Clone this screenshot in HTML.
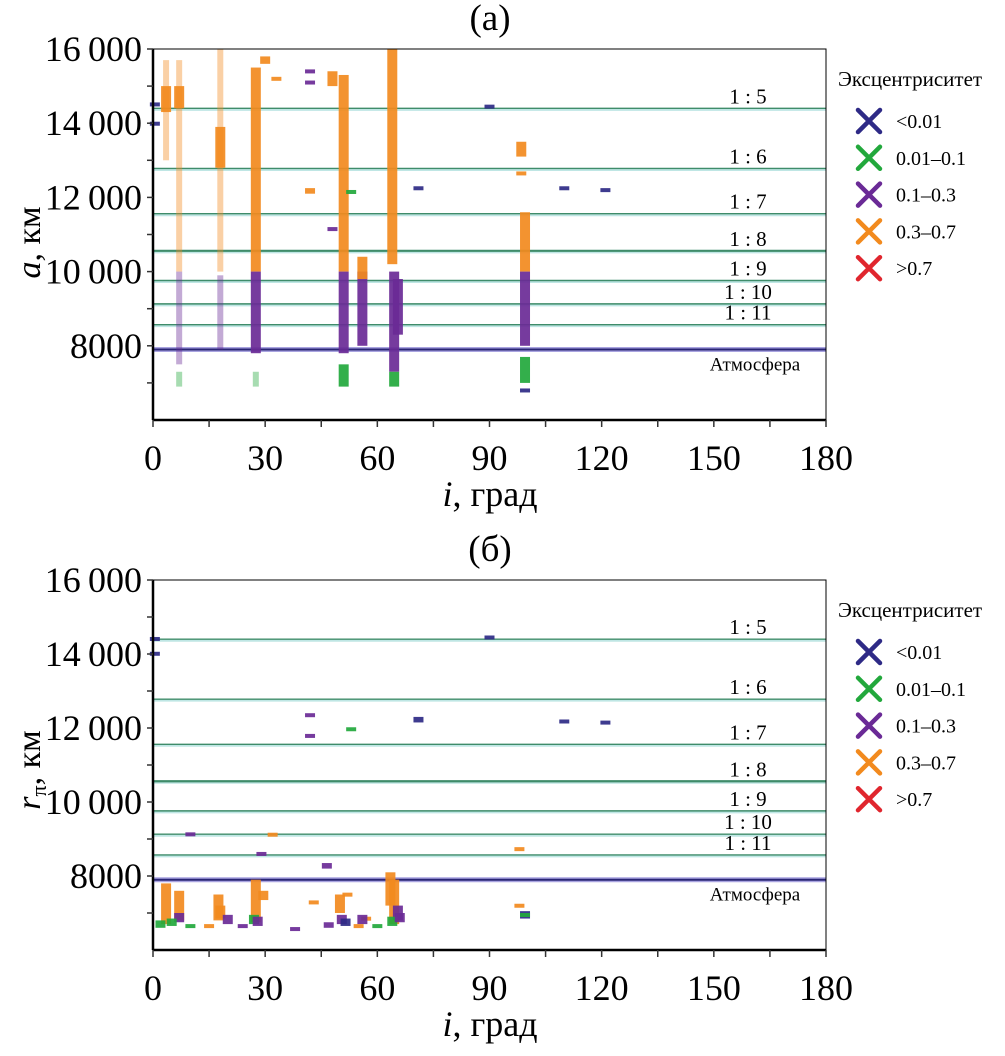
<!DOCTYPE html>
<html><head><meta charset="utf-8">
<style>
body{margin:0;background:#fff;}
svg{display:block;font-family:"Liberation Serif",serif;}
</style></head>
<body>
<svg id="chart" width="1005" height="1056" viewBox="0 0 1005 1056"></svg>
<script>
// ---------- data ----------
const xTicks = [0, 30, 60, 90, 120, 150, 180];
const yTicks = [8000, 10000, 12000, 14000, 16000];
const yTickLabels = ["8000", "10\u2009000", "12\u2009000", "14\u2009000", "16\u2009000"];
const resonanceLabels = ["1 : 5", "1 : 6", "1 : 7", "1 : 8", "1 : 9", "1 : 10", "1 : 11"];
const resonanceValues = [14400, 12780, 11560, 10560, 9760, 9130, 8570];
const atmosphereValue = 7900;
const classNames = ["<0.01", "0.01\u20130.1", "0.1\u20130.3", "0.3\u20130.7", ">0.7"];
const classColors = ["#2e2a86", "#22a83c", "#6a2a96", "#f28a1e", "#e0262e"];
// panel (a) streaks: inclination, a low, a high, class, density (1 dense, 0 sparse)
const aIncl = [3.5,3.5,7,7,7,7,18,18,18,27.5,27.5,27.5,30,33,42,42,42,48,48,51,51,51,53,56,56,64,64.5,65.5,64.5,90,71,110,121,98.5,98.5,99.5,99.5,99.5,99.5,0.5,0.5];
const aLow  = [14300,13000,14400,10000,7500,6900,12800,10000,7900,10000,7800,6900,15600,15150,15400,15050,12100,11100,15000,10000,7800,6900,12100,8000,9800,10200,7300,8300,6900,14450,12230,12230,12180,13100,12600,10000,8000,7000,6800,14480,13980];
const aHigh = [15000,15700,15000,15700,10000,7300,13900,16000,9900,15500,10000,7300,15800,15250,15450,15150,12250,11200,15400,15300,10000,7500,12200,10000,10400,16000,10000,9800,7300,14500,12300,12300,12250,13500,12700,11600,10000,7700,6850,14560,14040];
const aClass = [3,3,3,3,2,1,3,3,2,3,2,1,3,3,2,2,3,2,3,3,2,1,1,2,3,3,2,2,1,0,0,0,0,3,3,3,2,1,0,0,0];
const aDense = [1,0,1,0,0,0,1,0,0,1,1,0,1,1,1,1,1,1,1,1,1,1,1,1,1,1,1,1,1,1,1,1,1,1,1,1,1,1,1,1,1];
// panel (b) clusters: inclination, rπ low, rπ high, class
const bIncl = [0.5,0.5,90,71,110,121,42,42,53,10,32,29,46.5,98,98,99.5,3.5,7,7,17.5,18,27.5,29.5,43,50,52,57,56,63.5,64.5,65.5,2,5,20,27,28,47,50.5,51.5,60,64,66,99.5,10,15,24,38,55];
const bLow  = [14000,14400,14420,12150,12170,12130,12300,11760,11950,9120,9120,8580,8200,8720,7150,6850,6700,6800,6750,6800,6850,6750,7350,7280,7000,7450,6800,6700,7200,6700,6800,6600,6650,6700,6700,6650,6600,6700,6650,6600,6650,6750,6900,6600,6600,6600,6550,6650];
const bHigh = [14060,14460,14500,12300,12230,12200,12400,11840,12020,9180,9170,8650,8350,8780,7250,7050,7800,7600,7000,7500,7200,7900,7600,7340,7500,7550,6900,6950,8100,7900,7200,6800,6850,6950,6950,6900,6750,6950,6850,6700,6900,7000,7000,6700,6700,6700,6620,6700];
const bClass = [0,0,0,0,0,0,2,2,1,2,3,2,2,3,3,0,3,3,2,3,3,3,3,3,3,3,3,2,3,3,2,1,1,2,1,2,2,2,0,1,1,2,1,1,3,2,2,3];

// ---------- drawing ----------
const svg = document.getElementById('chart');
const NS = 'http://www.w3.org/2000/svg';
function mk(tag, attrs, parent) {
  const e = document.createElementNS(NS, tag);
  for (const k in attrs) e.setAttribute(k, attrs[k]);
  (parent || svg).appendChild(e);
  return e;
}
const X0 = 153, X1 = 826;
function xScale(i) { return X0 + (i / 180) * (X1 - X0); }

function panel(top, bottom, title, yTitleMain, yTitleSub, incl, lo, hi, cls, dense, legendTop, pid, yTitleShift) {
  const g = mk('g', {});
  
  
  const ppk = (bottom - top) / 10000;
  const yS = v => top + (16000 - v) * ppk;

  const t = mk('text', {x: 490, y: top - 19, 'font-size': 37, 'text-anchor': 'middle'}, g);
  t.textContent = title;
  
  

  resonanceValues.forEach((v, k) => {
    const y = yS(v);
    mk('line', {x1: X0, x2: X1, y1: y + 1.5, y2: y + 1.5, stroke: '#bfe6e4', 'stroke-width': 2}, g);
    const ln = mk('line', {x1: X0, x2: X1, y1: y, y2: y, stroke: '#3f8c6a', 'stroke-width': k === 3 ? 2.2 : 1.4}, g);
    
    
    const lt = mk('text', {x: 748, y: y - 5, 'font-size': 21, 'text-anchor': 'middle'}, g);
    lt.textContent = resonanceLabels[k];
    
    
  });
  const ya = yS(atmosphereValue);
  mk('line', {x1: X0, x2: X1, y1: ya, y2: ya, stroke: '#a9a4e0', 'stroke-width': 5}, g);
  const al = mk('line', {x1: X0, x2: X1, y1: ya, y2: ya, stroke: '#2a2676', 'stroke-width': 2}, g);
  
  
  const at = mk('text', {x: 755, y: ya + 21, 'font-size': 19, 'text-anchor': 'middle'}, g);
  at.textContent = 'Атмосфера';
  
  

  incl.forEach((inc, k) => {
    const x = xScale(inc);
    const y1 = yS(hi[k]), y2 = yS(lo[k]);
    const d = dense ? dense[k] : 1;
    const w = d ? 10 : 6;
    const r = mk('rect', {x: x - w / 2, y: y1, width: w, height: Math.max(4, y2 - y1),
      fill: classColors[cls[k]], opacity: d ? 0.92 : 0.4}, g);
    
    
  });

  const fr = mk('rect', {x: X0, y: top, width: X1 - X0, height: bottom - top, fill: 'none', stroke: '#000', 'stroke-width': 1}, g);
  
  
  mk('line', {x1: X0, x2: X0, y1: top, y2: bottom, stroke: '#000', 'stroke-width': 2.5}, g);
  mk('line', {x1: X0, x2: X1, y1: bottom, y2: bottom, stroke: '#000', 'stroke-width': 2.5}, g);

  for (let v = 7000; v <= 16000; v += 1000) {
    mk('line', {x1: X0 - 6, x2: X0, y1: yS(v), y2: yS(v), stroke: '#333', 'stroke-width': 1.5}, g);
  }
  yTicks.forEach((v, k) => {
    const tl = mk('text', {x: 142, y: yS(v) + 12, 'font-size': 36, 'text-anchor': 'end'}, g);
    tl.textContent = yTickLabels[k];
    
    
  });
  for (let v = 0; v <= 180; v += 15) {
    mk('line', {x1: xScale(v), x2: xScale(v), y1: bottom, y2: bottom + 7, stroke: '#333', 'stroke-width': 1.5}, g);
  }
  xTicks.forEach(v => {
    const tl = mk('text', {x: xScale(v), y: bottom + 50, 'font-size': 36, 'text-anchor': 'middle'}, g);
    tl.textContent = v;
    
    
  });
  const xt = mk('text', {x: 490, y: bottom + 86, 'font-size': 36, 'text-anchor': 'middle'}, g);
  xt.innerHTML = '<tspan font-style="italic">i</tspan>, град';
  
  
  const cy = (top + bottom) / 2 + yTitleShift;
  const yt = mk('text', {x: 0, y: 0, 'font-size': 34, 'text-anchor': 'middle', transform: `translate(40,${cy}) rotate(-90)`}, g);
  yt.innerHTML = '<tspan font-style="italic">' + yTitleMain + '</tspan>' + (yTitleSub ? '<tspan font-size="22" dy="6">' + yTitleSub + '</tspan><tspan dy="-6">, км</tspan>' : ', км');
  
  

  const lg = mk('g', {}, g);
  
  
  const lt = mk('text', {x: 838, y: legendTop, 'font-size': 21}, lg);
  lt.textContent = 'Эксцентриситет';
  classNames.forEach((nm, k) => {
    const y = legendTop + 35 + k * 36.8;
    const e = mk('g', {}, lg);
    
    
    mk('path', {d: `M858 ${y-11} L880 ${y+11} M880 ${y-11} L858 ${y+11}`, stroke: classColors[k], 'stroke-width': 4.5, 'stroke-linecap': 'round'}, e);
    const tx = mk('text', {x: 896, y: y + 7, 'font-size': 20}, e);
    tx.textContent = nm;
  });
}

panel(49, 420, '(а)', 'a', '', aIncl, aLow, aHigh, aClass, aDense, 86, 'panel-a', 8);
panel(580, 950, '(б)', 'r', 'π', bIncl, bLow, bHigh, bClass, null, 617, 'panel-b', 5);
</script>
</body></html>
